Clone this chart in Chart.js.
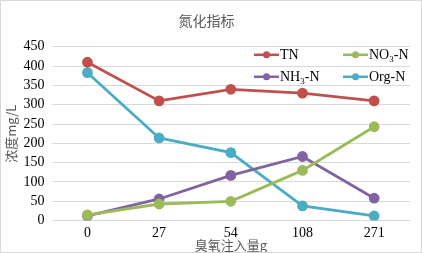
<!DOCTYPE html>
<html><head><meta charset="utf-8">
<script src="https://cdn.jsdelivr.net/npm/chart.js@4/dist/chart.umd.min.js"></script>
<style>html,body{margin:0;padding:0;background:#fff;}#wrap{width:422px;height:253px;box-sizing:border-box;border:1px solid #d9d9d9;}</style>
</head><body>
<div id="wrap"><canvas id="c" width="420" height="251"></canvas></div>
<script>
const categories = ['0','27','54','108','271'];
const tn = [410, 310, 340, 330, 310];
const no3n = [15, 43, 50, 130, 243];
const nh3n = [12, 56, 117, 166, 58];
const orgn = [383, 214, 176, 38, 12];
const yTicks = [0,50,100,150,200,250,300,350,400,450];

const serif = 'Liberation Serif, DejaVu Serif, serif';
const cjk = 'Noto Sans CJK SC, sans-serif';

const series = [
  {label:'TN', main:'TN', sub:'', tail:'', data:tn, color:'#C0504D'},
  {label:'NO3-N', main:'NO', sub:'3', tail:'-N', data:no3n, color:'#9BBB59'},
  {label:'NH3-N', main:'NH', sub:'3', tail:'-N', data:nh3n, color:'#8064A2'},
  {label:'Org-N', main:'Org-N', sub:'', tail:'', data:orgn, color:'#4BACC6'}
];

const legendPlugin = {
  id:'innerLegend',
  afterDraw(chart){
    const ctx = chart.ctx;
    const ca = chart.chartArea;
    const cols = [ca.right-156, ca.right-67];
    const rows = [ca.top+8, ca.top+30];
    series.forEach((s,i)=>{
      const x = cols[i%2], y = rows[Math.floor(i/2)];
      ctx.save();
      ctx.strokeStyle = s.color; ctx.lineWidth = 2.5;
      ctx.beginPath(); ctx.moveTo(x, y); ctx.lineTo(x+25, y); ctx.stroke();
      ctx.fillStyle = s.color;
      ctx.beginPath(); ctx.arc(x+12.5, y, 3.5, 0, Math.PI*2); ctx.fill();
      ctx.fillStyle = '#000';
      ctx.textBaseline = 'middle';
      ctx.font = '14px '+serif;
      let tx = x+26;
      ctx.fillText(s.main, tx, y+1); tx += ctx.measureText(s.main).width;
      if (s.sub){
        ctx.font = '9px '+serif;
        ctx.fillText(s.sub, tx, y+5); tx += ctx.measureText(s.sub).width;
        ctx.font = '14px '+serif;
        ctx.fillText(s.tail, tx, y+1);
      }
      ctx.restore();
    });
  }
};

new Chart(document.getElementById('c'), {
  type:'line',
  data:{
    labels:categories,
    datasets: series.map(s=>({
      label:s.label, data:s.data, borderColor:s.color, backgroundColor:s.color,
      borderWidth:2.8, pointRadius:4, pointBackgroundColor:s.color, pointBorderColor:s.color,
      tension:0, fill:false
    }))
  },
  options:{
    responsive:false, animation:false,
    layout:{padding:{left:2,right:11,top:4,bottom:1}},
    plugins:{
      legend:{display:false},
      tooltip:{enabled:false},
      title:{display:true, text:'氮化指标', color:'#595959', font:{family:cjk, size:14, weight:'normal'}, padding:{top:7,bottom:18}}
    },
    scales:{
      x:{
        offset:true,
        grid:{display:false, drawTicks:false},
        border:{display:false},
        ticks:{color:'#000', font:{family:serif, size:14}, padding:4, autoSkip:false, maxRotation:0},
        title:{display:true, text:'臭氧注入量g', color:'#595959', font:{family:cjk, size:13}, padding:{top:-8,bottom:-2}}
      },
      y:{
        min:0, max:450,
        afterBuildTicks(axis){ axis.ticks = yTicks.map(v=>({value:v})); },
        grid:{color:'#d9d9d9', lineWidth:1, drawTicks:false},
        border:{display:false},
        ticks:{color:'#000', font:{family:serif, size:14}, padding:7, autoSkip:false},
        title:{display:true, text:'浓度mg/L', color:'#595959', font:{family:cjk, size:13}, padding:{top:0,bottom:-2}}
      }
    }
  },
  plugins:[legendPlugin]
});
</script>
</body></html>
